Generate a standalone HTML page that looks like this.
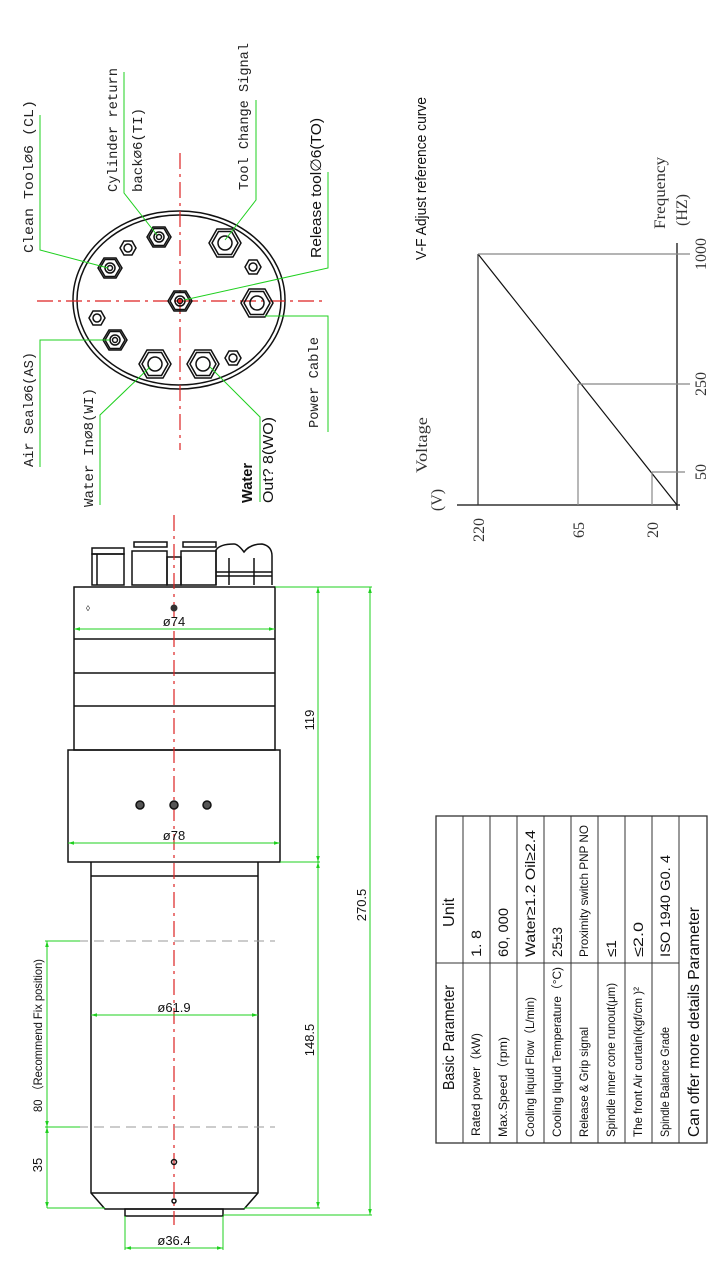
<!DOCTYPE html>
<html><head><meta charset="utf-8"><style>
html,body{margin:0;padding:0;background:#fff;}
svg{display:block;}
.k{stroke:#111;fill:none;stroke-width:1.5}
.g{stroke:#1fd01f;fill:none;stroke-width:1}
.r{stroke:#d22;fill:none;stroke-width:1.2;stroke-dasharray:16 5 3 5}
.gr{stroke:#888;fill:none;stroke-width:1.2}
.m{font-family:"Liberation Mono",monospace;font-size:14px;fill:#222}
.s{font-family:"Liberation Sans",sans-serif;fill:#111}
.se{font-family:"Liberation Serif",serif;font-size:16px;fill:#333}
</style></head><body>
<svg width="720" height="1270" viewBox="0 0 720 1270" xmlns="http://www.w3.org/2000/svg">
<defs>
<marker id="a" viewBox="0 0 10 10" refX="10" refY="5" markerWidth="8" markerHeight="6" orient="auto-start-reverse"><path d="M0,2 L10,5 L0,8z" fill="#1fd01f"/></marker>
<g id="hx"><polygon points="-12,0 -6,-10 6,-10 12,0 6,10 -6,10" class="k"/><polygon points="-10,0 -5,-8.5 5,-8.5 10,0 5,8.5 -5,8.5" class="k" stroke-width="0.8"/><circle r="5" class="k"/><circle r="2.5" class="k" stroke-width="0.8"/></g>
<g id="sm"><polygon points="-8,0 -4,-7 4,-7 8,0 4,7 -4,7" class="k" stroke-width="2.2"/><circle r="4" class="k" stroke-width="0.8"/></g>
<g id="bg"><polygon points="-16,0 -8,-14 8,-14 16,0 8,14 -8,14" class="k"/><polygon points="-13,0 -6.5,-11.5 6.5,-11.5 13,0 6.5,11.5 -6.5,11.5" class="k" stroke-width="0.8"/><circle r="7" class="k"/></g>
</defs>

<!-- TOP VIEW -->
<ellipse cx="179" cy="300" rx="106" ry="89" class="k"/>
<ellipse cx="179" cy="300" rx="102" ry="85" class="k" stroke-width="1"/>
<line x1="37" y1="301" x2="324" y2="301" class="r"/>
<line x1="180" y1="153" x2="180" y2="450" class="r"/>
<use href="#hx" x="159" y="237"/>
<use href="#sm" x="128" y="248"/>
<use href="#hx" x="110" y="268"/>
<use href="#sm" x="97" y="318"/>
<use href="#hx" x="115" y="340"/>
<use href="#bg" x="155" y="364"/>
<use href="#bg" x="203" y="364"/>
<use href="#sm" x="233" y="358"/>
<use href="#sm" x="253" y="267"/>
<use href="#bg" x="225" y="243"/>
<use href="#bg" x="257" y="303"/>
<use href="#hx" x="180" y="301"/>
<circle cx="180" cy="301" r="2" fill="#d22"/>
<polyline points="40,115 40,250 108,268" class="g"/>
<polyline points="124,72 124,193 157,235" class="g"/>
<polyline points="256,100 256,200 225,240" class="g"/>
<polyline points="328,172 328,268 184,300" class="g"/>
<polyline points="265,316 328,316 328,432" class="g"/>
<polyline points="110,340 40,340 40,467" class="g"/>
<polyline points="150,367 100,415 100,505" class="g"/>
<polyline points="210,367 260,417 260,502" class="g"/>
<text class="m" transform="translate(33,253) rotate(-90)" textLength="153" lengthAdjust="spacingAndGlyphs">Clean Tool∅6  (CL)</text>
<text class="m" transform="translate(117,192) rotate(-90)" textLength="124" lengthAdjust="spacingAndGlyphs">Cylinder return</text>
<text class="m" transform="translate(142,192) rotate(-90)" textLength="84" lengthAdjust="spacingAndGlyphs">back∅6(TI)</text>
<text class="m" transform="translate(248,190) rotate(-90)" textLength="147" lengthAdjust="spacingAndGlyphs">Tool Change Signal</text>
<text class="s" font-size="15" transform="translate(321,258) rotate(-90)" textLength="140" lengthAdjust="spacingAndGlyphs">Release tool∅6(TO)</text>
<text class="m" transform="translate(318,428) rotate(-90)" textLength="91" lengthAdjust="spacingAndGlyphs">Power Cable</text>
<text class="m" transform="translate(33,467) rotate(-90)" textLength="115" lengthAdjust="spacingAndGlyphs">Air Seal∅6(AS)</text>
<text class="m" transform="translate(93,507) rotate(-90)" textLength="119" lengthAdjust="spacingAndGlyphs">Water In∅8(WI)</text>
<text class="s" font-size="15" font-weight="bold" transform="translate(252,503) rotate(-90)" textLength="40" lengthAdjust="spacingAndGlyphs">Water</text>
<text class="s" font-size="15" transform="translate(273,503) rotate(-90)" textLength="86" lengthAdjust="spacingAndGlyphs">Out? 8(WO)</text>

<!-- GRAPH -->
<text class="s" font-size="15" transform="translate(426,260) rotate(-90)" textLength="163" lengthAdjust="spacingAndGlyphs">V-F Adjust reference curve</text>
<line x1="677" y1="243" x2="677" y2="510" stroke="#333" stroke-width="1.5"/>
<line x1="457" y1="505" x2="680" y2="505" stroke="#333" stroke-width="1.5"/>
<line x1="677" y1="505" x2="478" y2="254" stroke="#111" stroke-width="1.2"/>
<line x1="478" y1="254" x2="478" y2="505" stroke="#333" stroke-width="1.2"/>
<line x1="478" y1="254" x2="690" y2="254" class="gr"/>
<line x1="578" y1="384" x2="690" y2="384" class="gr"/>
<line x1="578" y1="384" x2="578" y2="505" class="gr"/>
<line x1="652" y1="472" x2="685" y2="472" class="gr"/>
<line x1="652" y1="472" x2="652" y2="505" class="gr"/>
<text class="se" text-anchor="middle" transform="translate(706,254) rotate(-90)">1000</text>
<text class="se" text-anchor="middle" transform="translate(706,384) rotate(-90)">250</text>
<text class="se" text-anchor="middle" transform="translate(706,472) rotate(-90)">50</text>
<text class="se" text-anchor="middle" transform="translate(484,530) rotate(-90)">220</text>
<text class="se" text-anchor="middle" transform="translate(584,530) rotate(-90)">65</text>
<text class="se" text-anchor="middle" transform="translate(658,530) rotate(-90)">20</text>
<text class="se" font-size="15" text-anchor="middle" transform="translate(442,500) rotate(-90)">(V)</text>
<text class="se" font-size="15" text-anchor="middle" transform="translate(427,445) rotate(-90)" textLength="56" lengthAdjust="spacingAndGlyphs">Voltage</text>
<text class="se" font-size="15" text-anchor="middle" transform="translate(665,193) rotate(-90)" textLength="72" lengthAdjust="spacingAndGlyphs">Frequency</text>
<text class="se" font-size="15" text-anchor="middle" transform="translate(687,210) rotate(-90)">(HZ)</text>

<!-- SPINDLE -->
<rect x="92" y="548" width="32" height="6" class="k" stroke-width="1"/>
<rect x="92" y="554" width="32" height="31" class="k"/>
<line x1="97" y1="554" x2="97" y2="585" class="k" stroke-width="0.8"/>
<rect x="134" y="542" width="33" height="5" class="k" stroke-width="1"/>
<rect x="132" y="551" width="35" height="34" class="k"/>
<rect x="183" y="542" width="33" height="5" class="k" stroke-width="1"/>
<rect x="181" y="551" width="35" height="34" class="k"/>
<rect x="167" y="557" width="14" height="28" class="k" stroke-width="0.8"/>
<path d="M216,585 V550 Q220,544 234,544 Q238,544 244,552 Q250,544 262,544 Q272,546 272,556 V585" class="k"/>
<line x1="216" y1="572" x2="272" y2="572" class="k" stroke-width="1.5"/>
<line x1="216" y1="576" x2="272" y2="576" class="k" stroke-width="1"/>
<line x1="229" y1="558" x2="229" y2="585" class="k" stroke-width="0.8"/>
<line x1="254" y1="558" x2="254" y2="585" class="k" stroke-width="0.8"/>
<rect x="74" y="587" width="201" height="163" class="k"/>
<line x1="74" y1="639" x2="275" y2="639" class="k"/>
<line x1="74" y1="673" x2="275" y2="673" class="k"/>
<line x1="74" y1="706" x2="275" y2="706" class="k"/>
<rect x="68" y="750" width="212" height="112" class="k"/>
<path d="M91,862 V1193 L105,1209 H244 L258,1193 V862" class="k"/>
<line x1="91" y1="876" x2="258" y2="876" class="k"/>
<line x1="91" y1="1193" x2="258" y2="1193" class="k" stroke-width="2"/>
<rect x="125" y="1209" width="98" height="7" class="k"/>
<line x1="174" y1="515" x2="174" y2="1225" class="r"/>
<circle cx="174" cy="608" r="3.5" fill="#333"/>
<text x="86" y="611" class="s" font-size="8">◊</text>
<circle cx="140" cy="805" r="4" fill="#555" stroke="#111" stroke-width="1.5"/>
<circle cx="174" cy="805" r="4" fill="#555" stroke="#111" stroke-width="1.5"/>
<circle cx="207" cy="805" r="4" fill="#555" stroke="#111" stroke-width="1.5"/>
<circle cx="174" cy="1162" r="2.5" class="k"/>
<circle cx="174" cy="1201" r="2" class="k" stroke="#a22"/>
<line x1="74" y1="629" x2="275" y2="629" class="g" marker-start="url(#a)" marker-end="url(#a)"/>
<text x="174" y="626" text-anchor="middle" class="s" font-size="13">ø74</text>
<line x1="68" y1="843" x2="280" y2="843" class="g" marker-start="url(#a)" marker-end="url(#a)"/>
<text x="174" y="840" text-anchor="middle" class="s" font-size="13">ø78</text>
<line x1="91" y1="1015" x2="258" y2="1015" class="g" marker-start="url(#a)" marker-end="url(#a)"/>
<text x="174" y="1012" text-anchor="middle" class="s" font-size="13">ø61.9</text>
<line x1="125" y1="1216" x2="125" y2="1250" class="g"/>
<line x1="223" y1="1216" x2="223" y2="1250" class="g"/>
<line x1="125" y1="1248" x2="223" y2="1248" class="g" marker-start="url(#a)" marker-end="url(#a)"/>
<text x="174" y="1245" text-anchor="middle" class="s" font-size="13">ø36.4</text>
<line x1="275" y1="587" x2="372" y2="587" class="g"/>
<line x1="280" y1="862" x2="320" y2="862" class="g"/>
<line x1="244" y1="1208" x2="320" y2="1208" class="g"/>
<line x1="223" y1="1215" x2="372" y2="1215" class="g"/>
<line x1="318" y1="587" x2="318" y2="862" class="g" marker-start="url(#a)" marker-end="url(#a)"/>
<line x1="318" y1="862" x2="318" y2="1208" class="g" marker-start="url(#a)" marker-end="url(#a)"/>
<line x1="370" y1="587" x2="370" y2="1215" class="g" marker-start="url(#a)" marker-end="url(#a)"/>
<text class="s" font-size="13" text-anchor="middle" transform="translate(314,720) rotate(-90)">119</text>
<text class="s" font-size="13" text-anchor="middle" transform="translate(314,1040) rotate(-90)">148.5</text>
<text class="s" font-size="13" text-anchor="middle" transform="translate(366,905) rotate(-90)">270.5</text>
<line x1="78" y1="941" x2="275" y2="941" stroke="#999" stroke-dasharray="10 6"/>
<line x1="78" y1="1127" x2="275" y2="1127" stroke="#999" stroke-dasharray="10 6"/>
<line x1="45" y1="941" x2="80" y2="941" class="g"/>
<line x1="45" y1="1127" x2="80" y2="1127" class="g"/>
<line x1="47" y1="1208" x2="105" y2="1208" class="g"/>
<line x1="47" y1="941" x2="47" y2="1127" class="g" marker-start="url(#a)" marker-end="url(#a)"/>
<line x1="47" y1="1127" x2="47" y2="1208" class="g" marker-start="url(#a)" marker-end="url(#a)"/>
<text class="s" font-size="12" transform="translate(42,1112) rotate(-90)" textLength="153" lengthAdjust="spacingAndGlyphs">80 （Recommend Fix position)</text>
<text class="s" font-size="13" text-anchor="middle" transform="translate(42,1165) rotate(-90)">35</text>

<!-- TABLE -->
<rect x="436" y="816" width="271" height="327" fill="none" stroke="#333" stroke-width="1.3"/>
<g stroke="#333" stroke-width="1">
<line x1="463" y1="816" x2="463" y2="1143"/><line x1="490" y1="816" x2="490" y2="1143"/>
<line x1="517" y1="816" x2="517" y2="1143"/><line x1="544" y1="816" x2="544" y2="1143"/>
<line x1="571" y1="816" x2="571" y2="1143"/><line x1="598" y1="816" x2="598" y2="1143"/>
<line x1="625" y1="816" x2="625" y2="1143"/><line x1="652" y1="816" x2="652" y2="1143"/>
<line x1="679" y1="816" x2="679" y2="1143"/>
<line x1="436" y1="963" x2="679" y2="963"/>
</g>
<g class="s" font-size="12">
<text font-size="16" transform="translate(454,1090) rotate(-90)" textLength="105" lengthAdjust="spacingAndGlyphs">Basic Parameter</text>
<text font-size="16" transform="translate(454,927) rotate(-90)" textLength="29" lengthAdjust="spacingAndGlyphs">Unit</text>
<text transform="translate(480,1136) rotate(-90)" textLength="103" lengthAdjust="spacingAndGlyphs">Rated power（kW)</text>
<text transform="translate(507,1137) rotate(-90)" textLength="100" lengthAdjust="spacingAndGlyphs">Max.Speed（rpm)</text>
<text transform="translate(534,1137) rotate(-90)" textLength="140" lengthAdjust="spacingAndGlyphs">Cooling liquid Flow（L/min)</text>
<text transform="translate(561,1137) rotate(-90)" textLength="170" lengthAdjust="spacingAndGlyphs">Cooling liquid Temperature（°C)</text>
<text transform="translate(588,1137) rotate(-90)" textLength="110" lengthAdjust="spacingAndGlyphs">Release &amp; Grip signal</text>
<text transform="translate(615,1137) rotate(-90)" textLength="154" lengthAdjust="spacingAndGlyphs">Spindle inner cone runout(μm)</text>
<text transform="translate(642,1137) rotate(-90)" textLength="150" lengthAdjust="spacingAndGlyphs">The front Air curtain(kgf/cm )²</text>
<text transform="translate(669,1137) rotate(-90)" textLength="110" lengthAdjust="spacingAndGlyphs">Spindle Balance Grade</text>
<text font-size="16" transform="translate(699,1137) rotate(-90)" textLength="230" lengthAdjust="spacingAndGlyphs">Can offer more details Parameter</text>
<text font-size="14" transform="translate(481,957) rotate(-90)" textLength="27" lengthAdjust="spacingAndGlyphs">1. 8</text>
<text font-size="14" transform="translate(508,957) rotate(-90)" textLength="49" lengthAdjust="spacingAndGlyphs">60, 000</text>
<text font-size="14" transform="translate(535,957) rotate(-90)" textLength="127" lengthAdjust="spacingAndGlyphs">Water≥1.2  Oil≥2.4</text>
<text font-size="14" transform="translate(562,957) rotate(-90)" textLength="30" lengthAdjust="spacingAndGlyphs">25±3</text>
<text transform="translate(588,957) rotate(-90)" textLength="132" lengthAdjust="spacingAndGlyphs">Proximity switch  PNP NO</text>
<text font-size="14" transform="translate(616,957) rotate(-90)" textLength="17" lengthAdjust="spacingAndGlyphs">≤1</text>
<text font-size="14" transform="translate(643,957) rotate(-90)" textLength="35" lengthAdjust="spacingAndGlyphs">≤2.0</text>
<text font-size="14" transform="translate(670,957) rotate(-90)" textLength="102" lengthAdjust="spacingAndGlyphs">ISO 1940 G0. 4</text>
</g>
</svg>
</body></html>
